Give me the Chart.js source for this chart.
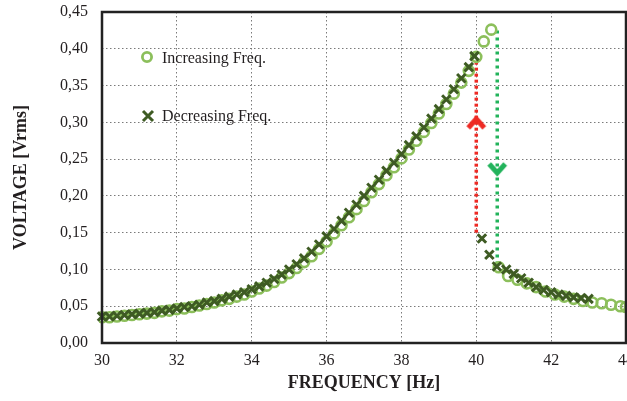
<!DOCTYPE html>
<html>
<head>
<meta charset="utf-8">
<script src="https://cdn.jsdelivr.net/npm/chart.js@4.4.1/dist/chart.umd.min.js"></script>
<style>
  html, body { margin: 0; padding: 0; background: #fff; overflow: hidden; }
  #wrap { width: 627px; height: 401px; overflow: hidden; position: relative; }
  #freqChart { display: block; }
</style>
</head>
<body>
<div id="wrap"><canvas id="freqChart" width="635" height="401"></canvas></div>
<script>
// Frequency sweep - increasing direction (circles)
const freqInc = [30.0, 30.2, 30.4, 30.6, 30.8, 31.0, 31.2, 31.4, 31.6, 31.8,
                 32.0, 32.2, 32.4, 32.6, 32.8, 33.0, 33.2, 33.4, 33.6, 33.8,
                 34.0, 34.2, 34.4, 34.6, 34.8, 35.0, 35.2, 35.4, 35.6, 35.8,
                 36.0, 36.2, 36.4, 36.6, 36.8, 37.0, 37.2, 37.4, 37.6, 37.8,
                 38.0, 38.2, 38.4, 38.6, 38.8, 39.0, 39.2, 39.4, 39.6, 39.8,
                 40.0, 40.2, 40.4,
                 40.6, 40.85, 41.1, 41.35, 41.6, 41.85, 42.1, 42.35, 42.6, 42.85,
                 43.1, 43.35, 43.6, 43.85, 44.0];
const voltInc = [0.035, 0.035, 0.036, 0.037, 0.038, 0.039, 0.040, 0.041, 0.043, 0.044,
                 0.046, 0.047, 0.049, 0.051, 0.053, 0.055, 0.058, 0.060, 0.063, 0.066,
                 0.070, 0.074, 0.078, 0.083, 0.089, 0.095, 0.102, 0.110, 0.118, 0.128,
                 0.138, 0.149, 0.160, 0.171, 0.182, 0.193, 0.205, 0.216, 0.228, 0.239,
                 0.251, 0.263, 0.275, 0.287, 0.299, 0.312, 0.325, 0.339, 0.354, 0.370,
                 0.389, 0.410, 0.426,
                 0.103, 0.091, 0.086, 0.081, 0.076, 0.070, 0.066, 0.063, 0.060, 0.057,
                 0.055, 0.054, 0.052, 0.050, 0.049];

// Frequency sweep - decreasing direction (crosses)
const freqDec = [30.0, 30.2, 30.4, 30.6, 30.8, 31.0, 31.2, 31.4, 31.6, 31.8,
                 32.0, 32.2, 32.4, 32.6, 32.8, 33.0, 33.2, 33.4, 33.6, 33.8,
                 34.0, 34.2, 34.4, 34.6, 34.8, 35.0, 35.2, 35.4, 35.6, 35.8,
                 36.0, 36.2, 36.4, 36.6, 36.8, 37.0, 37.2, 37.4, 37.6, 37.8,
                 38.0, 38.2, 38.4, 38.6, 38.8, 39.0, 39.2, 39.4, 39.6, 39.8,
                 39.95,
                 40.15, 40.35, 40.55, 40.8, 41.0, 41.2, 41.4, 41.6, 41.8, 42.0,
                 42.2, 42.4, 42.6, 42.8, 43.0];
const voltDec = [0.036, 0.036, 0.037, 0.038, 0.039, 0.040, 0.041, 0.042, 0.044, 0.045,
                 0.047, 0.049, 0.050, 0.052, 0.055, 0.057, 0.060, 0.063, 0.066, 0.069,
                 0.073, 0.077, 0.082, 0.087, 0.093, 0.100, 0.107, 0.115, 0.124, 0.134,
                 0.145, 0.155, 0.166, 0.177, 0.188, 0.200, 0.211, 0.222, 0.234, 0.245,
                 0.257, 0.269, 0.281, 0.293, 0.305, 0.318, 0.331, 0.345, 0.360, 0.375,
                 0.390,
                 0.142, 0.120, 0.104, 0.100, 0.094, 0.088, 0.082, 0.076, 0.072, 0.069,
                 0.066, 0.064, 0.062, 0.061, 0.060];

// Jump lines (hysteresis)
const jumpDownFreq = [40.0, 40.0];
const jumpDownVolt = [0.150, 0.381];
const jumpUpFreq = [40.56, 40.56];
const jumpUpVolt = [0.425, 0.105];
const arrowRed = { x: 40.0, y: 0.300 };
const arrowGreen = { x: 40.56, y: 0.236 };

// Axis ticks
const xMin = 30, xMax = 44, xStep = 2;
const yMin = 0, yMax = 0.45, yStep = 0.05;

const toPoints = (xs, ys) => xs.map((x, i) => ({ x: x, y: ys[i] }));

const lightGreen = '#8cbf5b';
const darkGreen = '#3e5b23';
const red = '#ee2a24';
const green = '#22b35b';
const gridGrey = '#7a7a7a';
const textColor = '#231f20';
const serif = '"Liberation Serif", serif';

// chevron arrow heads drawn on small canvases, used as point styles
function chevron(color, up) {
    const c = document.createElement('canvas');
    c.width = 22; c.height = 17;
    const g = c.getContext('2d');
    g.strokeStyle = color;
    g.lineWidth = 5;
    g.lineJoin = 'miter';
    g.beginPath();
    if (up) {
        g.moveTo(3, 14); g.lineTo(11, 5); g.lineTo(19, 14);
    } else {
        g.moveTo(3, 3); g.lineTo(11, 12); g.lineTo(19, 3);
    }
    g.stroke();
    return c;
}

const framePlugin = {
    id: 'frame',
    afterDraw(chart) {
        const { ctx, chartArea: a } = chart;
        ctx.save();
        ctx.strokeStyle = '#222';
        ctx.lineWidth = 2.5;
        ctx.strokeRect(a.left, a.top, a.right - a.left, a.bottom - a.top);

        // x tick labels (drawn here so the last one does not shrink the plot)
        const xs = chart.scales.x;
        ctx.font = '16px ' + serif;
        ctx.fillStyle = textColor;
        ctx.textAlign = 'center';
        ctx.textBaseline = 'middle';
        xs.ticks.forEach(t => {
            ctx.fillText(String(t.value), xs.getPixelForValue(t.value), a.bottom + 18);
        });

        // legend inside plot
        ctx.textAlign = 'left';
        ctx.strokeStyle = lightGreen;
        ctx.lineWidth = 2.8;
        ctx.beginPath();
        ctx.arc(147, 57, 4.6, 0, Math.PI * 2);
        ctx.stroke();
        ctx.fillText('Increasing Freq.', 162, 59);

        ctx.strokeStyle = darkGreen;
        ctx.lineWidth = 3;
        ctx.beginPath();
        ctx.moveTo(143, 111); ctx.lineTo(153, 121);
        ctx.moveTo(153, 111); ctx.lineTo(143, 121);
        ctx.stroke();
        ctx.fillText('Decreasing Freq.', 162, 117);
        ctx.restore();
    }
};

const ctx = document.getElementById('freqChart').getContext('2d');
const chart = new Chart(ctx, {
    type: 'scatter',
    data: {
        datasets: [
            {
                label: 'Decreasing Freq.',
                data: toPoints(freqDec, voltDec),
                pointStyle: 'crossRot',
                pointRadius: 6,
                borderColor: darkGreen,
                pointBorderWidth: 3,
                clip: false,
                order: 1
            },
            {
                label: 'Increasing Freq.',
                data: toPoints(freqInc, voltInc),
                pointStyle: 'circle',
                pointRadius: 5,
                borderColor: lightGreen,
                backgroundColor: 'rgba(0,0,0,0)',
                pointBorderWidth: 2.6,
                clip: 3,
                order: 2
            },
            {
                label: 'jump down',
                data: toPoints(jumpDownFreq, jumpDownVolt),
                showLine: true,
                borderColor: red,
                borderWidth: 3.5,
                borderDash: [3, 3],
                pointRadius: 0,
                order: 3
            },
            {
                label: 'jump up',
                data: toPoints(jumpUpFreq, jumpUpVolt),
                showLine: true,
                borderColor: green,
                borderWidth: 3.5,
                borderDash: [3, 4],
                pointRadius: 0,
                order: 3
            },
            {
                label: 'arrow red',
                data: [arrowRed],
                pointStyle: chevron(red, true),
                pointRadius: 8,
                order: 0
            },
            {
                label: 'arrow green',
                data: [arrowGreen],
                pointStyle: chevron(green, false),
                pointRadius: 8,
                order: 0
            }
        ]
    },
    options: {
        responsive: false,
        animation: false,
        devicePixelRatio: 1,
        layout: { padding: { top: 12, right: 2, left: 0, bottom: 0 } },
        scales: {
            x: {
                type: 'linear',
                min: xMin,
                max: xMax,
                afterFit: (s) => { s.height = 58; s.paddingLeft = 0; s.paddingRight = 0; },
                grid: {
                    color: (c) => (c.tick.value === xMin || c.tick.value === xMax) ? 'rgba(0,0,0,0)' : gridGrey,
                    lineWidth: 1,
                    drawTicks: false
                },
                border: { display: false, dash: [1.5, 2.5] },
                ticks: {
                    display: false,
                    stepSize: xStep
                },
                title: {
                    display: true,
                    text: 'FREQUENCY [Hz]',
                    color: textColor,
                    font: { family: serif, size: 18, weight: 'bold' },
                    padding: { top: 0, bottom: 7 }
                }
            },
            y: {
                min: yMin,
                max: yMax,
                afterFit: (s) => { s.width = 102; s.paddingTop = 0; s.paddingBottom = 0; },
                grid: {
                    color: (c) => (c.tick.value <= yMin + 1e-9 || c.tick.value >= yMax - 1e-9) ? 'rgba(0,0,0,0)' : gridGrey,
                    lineWidth: 1,
                    drawTicks: false
                },
                border: { display: false, dash: [1.5, 2.5] },
                ticks: {
                    stepSize: yStep,
                    padding: 14,
                    color: textColor,
                    font: { family: serif, size: 16 },
                    callback: (v) => v.toFixed(2).replace('.', ',')
                },
                title: {
                    display: true,
                    text: 'VOLTAGE [Vrms]',
                    color: textColor,
                    font: { family: serif, size: 18, weight: 'bold' },
                    padding: { top: 11, bottom: 0 }
                }
            }
        },
        plugins: {
            legend: { display: false },
            tooltip: { enabled: false }
        }
    },
    plugins: [framePlugin]
});
</script>
</body>
</html>
